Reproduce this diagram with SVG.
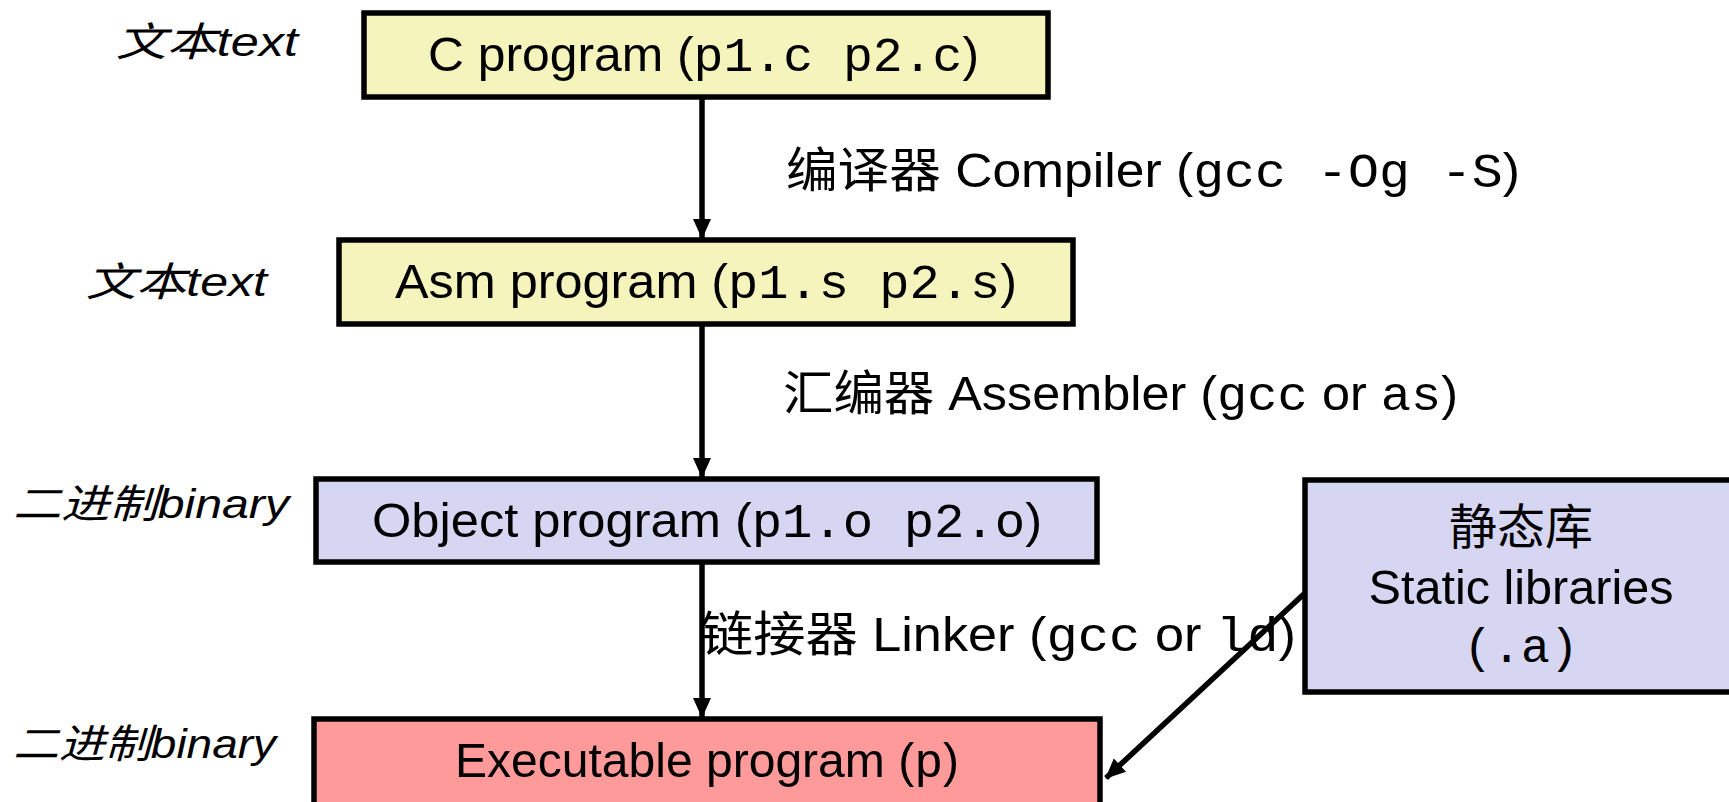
<svg xmlns="http://www.w3.org/2000/svg" width="1729" height="802" viewBox="0 0 1729 802">
  <style>
    .box { stroke: #000; stroke-width: 5.5; }
    .src { fill: #F5F4BD; }
    .obj { fill: #D6D6F3; }
    .exe { fill: #FF9A9A; }
    .t { font-family: "Liberation Sans", "Noto Sans CJK SC", sans-serif; font-size: 48px; fill: #000; }
    .m { font-family: "Liberation Mono", monospace; }
    .side { font-family: "Liberation Sans", "Noto Sans CJK SC", sans-serif; font-size: 40px; font-style: italic; fill: #000; }
    .wire { stroke: #000; stroke-width: 5.5; fill: none; marker-end: url(#arrow); }
  </style>
  <defs>
    <marker id="arrow" markerUnits="userSpaceOnUse" markerWidth="20" markerHeight="20" viewBox="0 0 20 20" refX="19" refY="10" orient="auto">
      <path d="M0,1 L20,10 L0,19 Z" fill="#000"/>
    </marker>
  </defs>
  <rect width="1729" height="802" fill="#fff"/>

  <!-- side annotations -->
  <text class="side" x="116" y="56" textLength="182" lengthAdjust="spacingAndGlyphs">文本text</text>
  <text class="side" x="86" y="296" textLength="181" lengthAdjust="spacingAndGlyphs">文本text</text>
  <text class="side" x="13" y="518" textLength="276" lengthAdjust="spacingAndGlyphs">二进制binary</text>
  <text class="side" x="13" y="758" textLength="263" lengthAdjust="spacingAndGlyphs">二进制binary</text>

  <!-- connectors and tool labels -->
  <g id="connectors">
    <line class="wire" x1="702" y1="97" x2="702" y2="238"/>
    <line class="wire" x1="702" y1="324" x2="702" y2="477"/>
    <line class="wire" x1="702" y1="562" x2="702" y2="717"/>
    <line class="wire" x1="1305" y1="593" x2="1106" y2="778"/>
    <text class="t" x="786" y="187" textLength="734" lengthAdjust="spacingAndGlyphs">编译器 Compiler (<tspan class="m">gcc -Og -S</tspan>)</text>
    <text class="t" x="783" y="410" textLength="675" lengthAdjust="spacingAndGlyphs">汇编器 Assembler (<tspan class="m">gcc</tspan> or <tspan class="m">as</tspan>)</text>
    <text class="t" x="701" y="651" textLength="595" lengthAdjust="spacingAndGlyphs">链接器 Linker (<tspan class="m">gcc</tspan> or <tspan class="m"> ld</tspan>)</text>
  </g>

  <g id="c-program">
    <rect class="box src" x="364" y="13" width="684" height="84"/>
    <text class="t" x="428" y="71" textLength="551" lengthAdjust="spacingAndGlyphs">C program (<tspan class="m">p1.c p2.c</tspan>)</text>
  </g>

  <g id="asm-program">
    <rect class="box src" x="339" y="240" width="734" height="84"/>
    <text class="t" x="395" y="298" textLength="622" lengthAdjust="spacingAndGlyphs">Asm program (<tspan class="m">p1.s p2.s</tspan>)</text>
  </g>

  <g id="object-program">
    <rect class="box obj" x="316" y="479" width="781" height="83"/>
    <text class="t" x="372" y="537" textLength="670" lengthAdjust="spacingAndGlyphs">Object program (<tspan class="m">p1.o p2.o</tspan>)</text>
  </g>

  <g id="executable-program">
    <rect class="box exe" x="314" y="719" width="786" height="100"/>
    <text class="t" x="455" y="777" textLength="504" lengthAdjust="spacingAndGlyphs">Executable program (<tspan class="m">p</tspan>)</text>
  </g>

  <g id="static-libraries">
    <rect class="box obj" x="1305" y="480" width="440" height="212"/>
    <text class="t" x="1521" y="544" text-anchor="middle">静态库</text>
    <text class="t" x="1521" y="604" text-anchor="middle" textLength="305" lengthAdjust="spacingAndGlyphs">Static libraries</text>
    <text class="t m" x="1521" y="662" text-anchor="middle">(.a)</text>
  </g>
</svg>
